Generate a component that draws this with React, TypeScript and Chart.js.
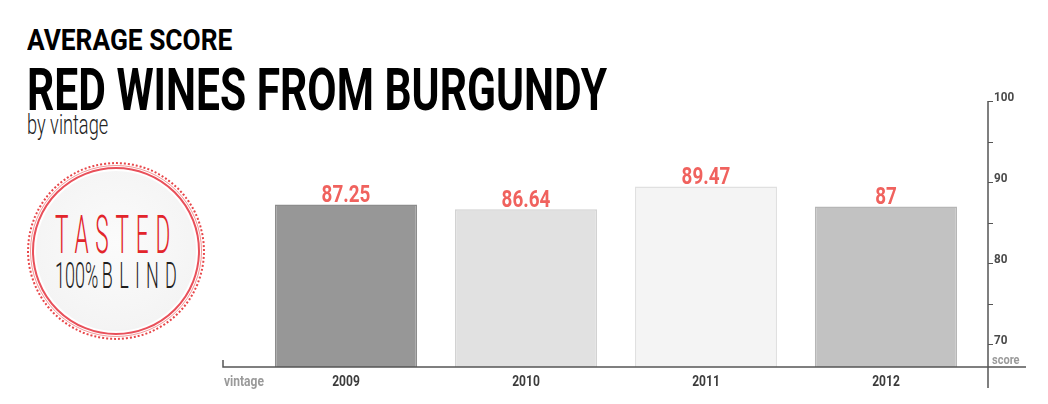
import { useEffect, useLayoutEffect, useRef, ReactNode, CSSProperties } from "react";
import { Chart, registerables } from "chart.js";

Chart.register(...registerables);

const vintages = ["2009", "2010", "2011", "2012"];
const scores = [87.25, 86.64, 89.47, 87];
const scoreLabels = ["87.25", "86.64", "89.47", "87"];
const barColors = ["#979797", "#e1e1e1", "#f4f4f4", "#c2c2c2"];
const barBorders = ["#8c8c8c", "#d2d2d2", "#e0e0e0", "#b6b6b6"];
const majorTicks = [70, 80, 90, 100];
const minorTicks = [75, 85, 95];
const yMin = 67.2;
const yMax = 100;

const FONT = "Roboto, 'DejaVu Sans', sans-serif";

const drawText = (
  ctx: CanvasRenderingContext2D,
  text: string,
  x: number,
  y: number,
  size: number,
  color: string,
  align: CanvasTextAlign,
  sx: number
) => {
  ctx.save();
  ctx.translate(x, y);
  ctx.scale(sx, 1);
  ctx.font = `bold ${size}px ${FONT}`;
  ctx.fillStyle = color;
  ctx.textAlign = align;
  ctx.textBaseline = "alphabetic";
  ctx.fillText(text, 0, 0);
  ctx.restore();
};

// axis lines, ticks and value labels drawn off the chart's own scales
const decorPlugin = {
  id: "scoreDecor",
  afterDatasetsDraw(chart: any) {
    const { ctx, scales, chartArea } = chart;
    const x = scales.x;
    const y = scales.y;
    const base = chartArea.bottom;
    const axisX = chartArea.right + 12;

    ctx.save();
    ctx.strokeStyle = "#555";
    ctx.lineWidth = 1.5;
    // baseline
    ctx.beginPath();
    ctx.moveTo(223, base - 7);
    ctx.lineTo(223, base);
    ctx.lineTo(1026, base);
    ctx.stroke();
    // score axis
    ctx.beginPath();
    ctx.moveTo(axisX, y.getPixelForValue(yMax));
    ctx.lineTo(axisX, base + 21);
    ctx.stroke();
    ctx.lineWidth = 1;
    [...majorTicks, ...minorTicks].forEach((t) => {
      const py = Math.round(y.getPixelForValue(t)) + 0.5;
      ctx.beginPath();
      ctx.moveTo(axisX, py);
      ctx.lineTo(axisX + 5, py);
      ctx.stroke();
    });
    ctx.restore();

    majorTicks.forEach((t) => {
      drawText(ctx, String(t), axisX + 6, y.getPixelForValue(t) - 0.5, 13, "#4a4a4a", "left", 0.9);
    });
    drawText(ctx, "score", axisX + 4, base - 3, 13, "#9a9a9a", "left", 0.85);
    drawText(ctx, "vintage", 224, base + 19, 14, "#9a9a9a", "left", 0.86);

    vintages.forEach((v, i) => {
      const px = x.getPixelForValue(i);
      drawText(ctx, v, px, base + 19, 14, "#3c3c3c", "center", 0.86);
      drawText(ctx, scoreLabels[i], px, y.getPixelForValue(scores[i]) - 2, 23, "#f0625e", "center", 0.82);
    });
  },
};

const FitText = ({
  width,
  style,
  children,
}: {
  width: number;
  style: CSSProperties;
  children: ReactNode;
}) => {
  const ref = useRef<HTMLSpanElement | null>(null);
  useLayoutEffect(() => {
    const el = ref.current;
    if (!el) return;
    el.style.transform = "none";
    const w = el.offsetWidth;
    el.style.transform = `scaleX(${width / w})`;
  }, [width]);
  return (
    <span
      ref={ref}
      style={{
        position: "absolute",
        display: "inline-block",
        whiteSpace: "nowrap",
        transformOrigin: "left top",
        lineHeight: 1,
        fontFamily: FONT,
        ...style,
      }}
    >
      {children}
    </span>
  );
};

const ring = (inset: number, border: string): CSSProperties => ({
  position: "absolute",
  inset,
  borderRadius: "50%",
  border,
  boxSizing: "border-box",
});

const Badge = () => (
  <div style={{ position: "absolute", left: 27, top: 162, width: 178, height: 178 }}>
    <div style={ring(0, "2px dotted #e8474a")} />
    <div style={{ ...ring(3, "1px solid #f29a9a"), background: "#fff" }} />
    <div style={ring(5, "2.5px solid #e9505a")} />
    <div
      style={{
        position: "absolute",
        inset: 9,
        borderRadius: "50%",
        background: "radial-gradient(circle at 50% 45%, #fbfbfb 0%, #f4f4f4 72%, #dde1e6 100%)",
      }}
    />
    <FitText width={122} style={{ left: 28, top: 47, fontSize: 53, fontWeight: 300, color: "#e2252b", letterSpacing: "0.3em" }}>
      TASTED
    </FitText>
    <FitText width={122} style={{ left: 28, top: 95, fontSize: 37, fontWeight: 300, color: "#1e1e1e" }}>
      100%<span style={{ letterSpacing: "0.35em", marginLeft: "0.2em" }}>BLIN</span>D
    </FitText>
  </div>
);

const ScoreChart = () => {
  const chartRef = useRef<HTMLCanvasElement | null>(null);
  const chartInstance = useRef<Chart | null>(null);

  useEffect(() => {
    if (!chartRef.current) return;
    if (chartInstance.current) chartInstance.current.destroy();

    chartInstance.current = new Chart(chartRef.current, {
      type: "bar",
      data: {
        labels: vintages,
        datasets: [
          {
            data: scores,
            backgroundColor: barColors,
            borderColor: barBorders,
            borderWidth: 1.5,
            barPercentage: 0.79,
            categoryPercentage: 1,
          },
        ],
      },
      options: {
        animation: false,
        responsive: true,
        maintainAspectRatio: false,
        layout: { padding: { left: 256, right: 72, top: 101, bottom: 37 } },
        plugins: { legend: { display: false }, tooltip: { enabled: false } },
        scales: {
          x: { display: false, offset: true },
          y: { display: false, min: yMin, max: yMax },
        },
      },
      plugins: [decorPlugin],
    });

    return () => {
      if (chartInstance.current) {
        chartInstance.current.destroy();
        chartInstance.current = null;
      }
    };
  }, []);

  return (
    <div style={{ position: "absolute", left: 0, top: 0, width: 1048, height: 404 }}>
      <canvas ref={chartRef} />
    </div>
  );
};

const App = () => (
  <div style={{ position: "fixed", left: 0, top: 0, width: 1048, height: 404, background: "#fff", overflow: "hidden" }}>
    <FitText width={205} style={{ left: 27, top: 26, fontSize: 29.5, fontWeight: 700, color: "#000" }}>
      AVERAGE SCORE
    </FitText>
    <FitText width={580} style={{ left: 27, top: 61, fontSize: 58.6, fontWeight: 700, color: "#000" }}>
      RED WINES FROM BURGUNDY
    </FitText>
    <FitText width={81} style={{ left: 27, top: 112, fontSize: 27, fontWeight: 300, color: "#222" }}>
      by vintage
    </FitText>
    <Badge />
    <ScoreChart />
  </div>
);

export default App;
